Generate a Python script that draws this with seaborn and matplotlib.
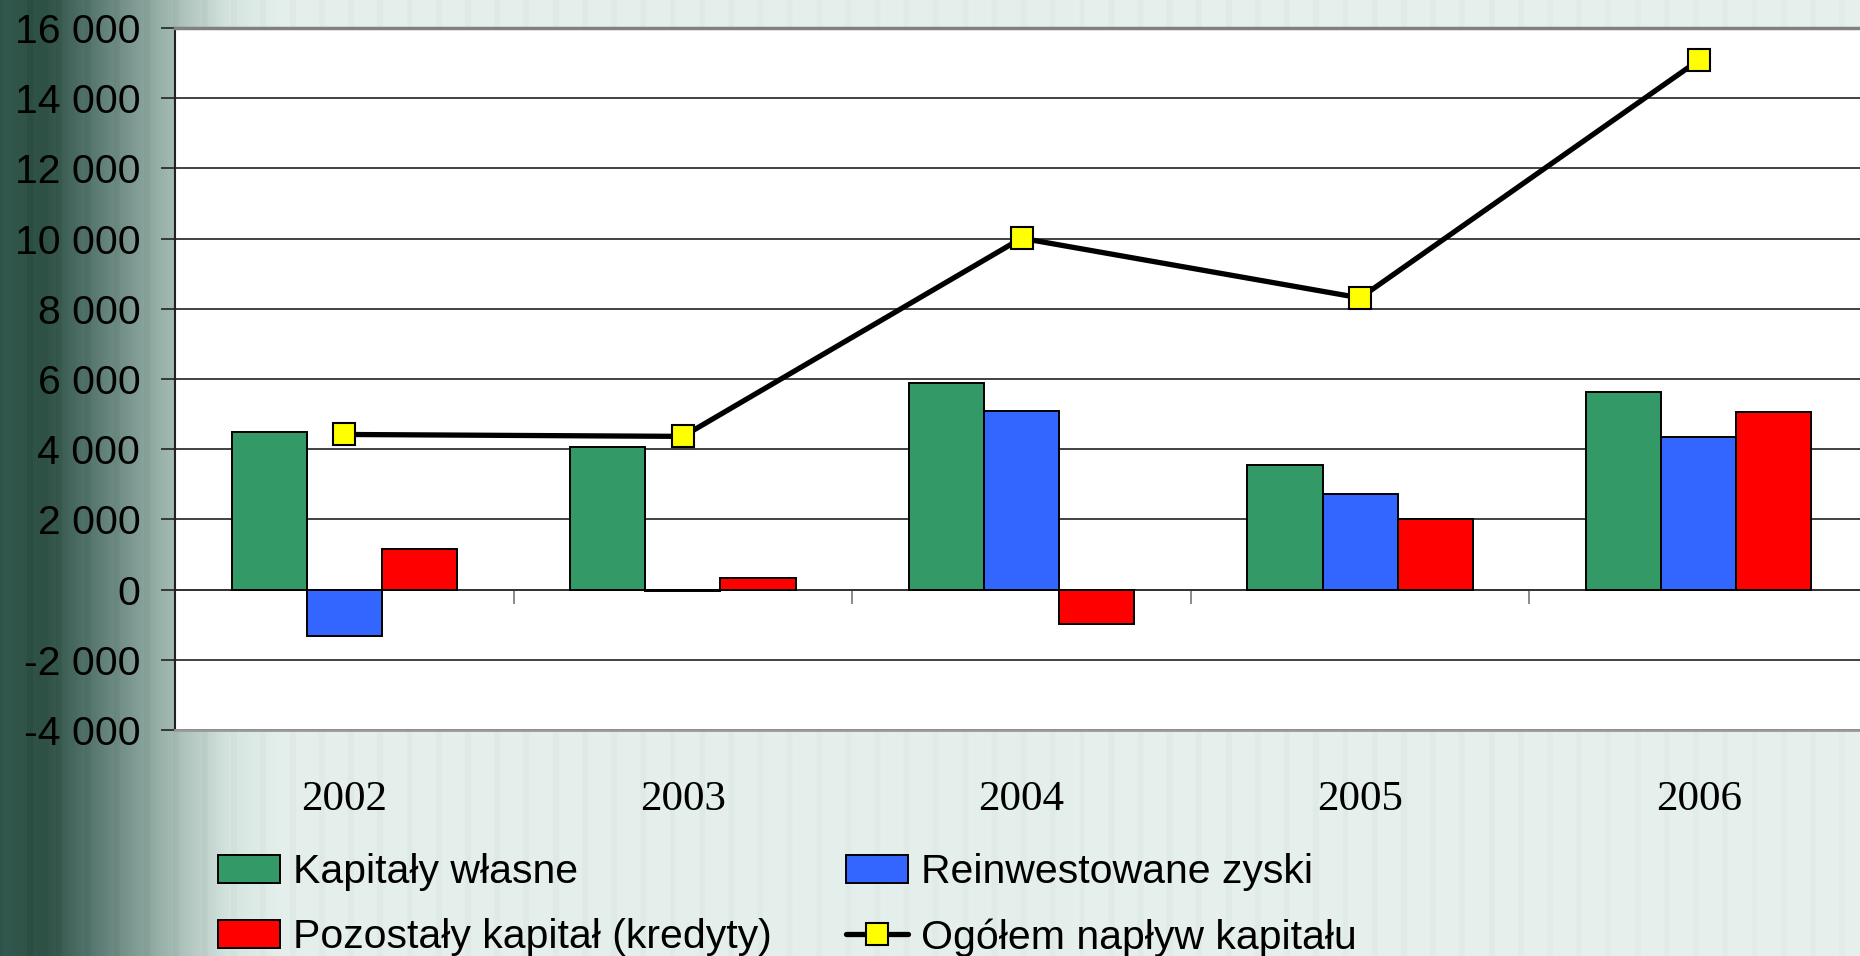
import numpy as np
import pandas as pd
import matplotlib
matplotlib.use("Agg")
import matplotlib.pyplot as plt
import seaborn as sns
from matplotlib.colors import to_rgb
from matplotlib.lines import Line2D
from matplotlib.patches import Patch
from matplotlib.ticker import FuncFormatter

# values
lata = ["2002", "2003", "2004", "2005", "2006"]
kapitaly_wlasne = [4500, 4060, 5890, 3545, 5635]
reinwestowane_zyski = [-1310, -40, 5080, 2710, 4335]
pozostaly_kapital = [1170, 340, -975, 2020, 5065]
ogolem_naplyw = [4420, 4365, 10010, 8310, 15080]

serie = ["Kapitały własne", "Reinwestowane zyski", "Pozostały kapitał (kredyty)"]
nazwa_linii = "Ogółem napływ kapitału"
kolory = ["#339966", "#3366FF", "#FF0000"]

df = pd.DataFrame({
    "rok": lata * 3,
    "seria": np.repeat(serie, len(lata)),
    "wartosc": kapitaly_wlasne + reinwestowane_zyski + pozostaly_kapital,
})

sns.set_style("white")
plt.rcParams["font.family"] = ["Liberation Sans", "DejaVu Sans"]
plt.rcParams["text.color"] = "black"
plt.rcParams["xtick.color"] = "black"
plt.rcParams["ytick.color"] = "black"

W, H = 1860, 956
fig = plt.figure(figsize=(W / 100, H / 100), dpi=100)

# background: dark green fade on the left, pale mint with faint streaks elsewhere
bg = fig.add_axes([0, 0, 1, 1], zorder=-10)
px = np.arange(W)
stops_x = [0, 45, 100, 150, 175, 200, 230, 280, W]
stops_c = np.array([to_rgb(c) for c in ["#33584d", "#2e5045", "#5f7f76", "#8ea8a0",
                                        "#a6bdb6", "#bdcfc9", "#d6e5e0", "#e4efeb", "#e6f1ed"]])
profile = np.stack([np.interp(px, stops_x, stops_c[:, i]) for i in range(3)], axis=1)
streaks = 0.018 * (np.cos(px / 9.3) * np.cos(px / 3.1) > 0.55)
profile = np.clip(profile - streaks[:, None], 0, 1)
bg.imshow(profile[None, :, :], aspect="auto", extent=[0, 1, 0, 1])
bg.set_axis_off()

# plot area (right edge runs just past the picture, as in the original)
ax = fig.add_axes([175 / W, 1 - 730 / H, 1693 / W, 702 / H])
ax.set_facecolor("white")

sns.barplot(data=df, x="rok", y="wartosc", hue="seria", palette=kolory, width=0.666,
            saturation=1, edgecolor="black", linewidth=1.4, legend=False, ax=ax, zorder=3)
sns.lineplot(x=np.arange(len(lata)), y=ogolem_naplyw, color="black", linewidth=3.8,
             marker="s", markersize=16, markerfacecolor="#FFFF00", markeredgecolor="black",
             markeredgewidth=1.5, ax=ax, zorder=5)

y0, y1 = -4000, 16000
ax.set_ylim(y0, y1)
ax.set_xlim(-0.5, len(lata) - 0.5)
ax.set_yticks(np.arange(y0, y1 + 1, 2000))
ax.yaxis.set_major_formatter(FuncFormatter(lambda v, p: f"{v:,.0f}".replace(",", " ")))
ax.yaxis.grid(True, color="#333333", linewidth=1.3)
ax.set_axisbelow(True)
ax.set_xlabel("")
ax.set_ylabel("")

ax.spines["right"].set_visible(False)
ax.spines["left"].set_color("#222222")
ax.spines["left"].set_linewidth(1.5)
ax.spines["top"].set_color("#808080")
ax.spines["top"].set_linewidth(2.5)
ax.spines["bottom"].set_color("#999999")
ax.spines["bottom"].set_linewidth(2)

ax.tick_params(axis="y", direction="out", length=10, width=1.2, color="#222222",
               labelsize=29.5, pad=15, left=True)
ax.tick_params(axis="x", length=0, labelsize=31, pad=36, labelfontfamily="Liberation Serif")

# category axis line at zero with tick marks between the years
zero_ax = ax.secondary_xaxis((0 - y0) / (y1 - y0))
zero_ax.set_xticks(np.arange(len(lata) + 1) - 0.5, labels=[])
zero_ax.tick_params(direction="out", length=10, width=1.2, color="#777777")
for s in ["top", "bottom"]:
    zero_ax.spines[s].set_color("#222222")
    zero_ax.spines[s].set_linewidth(1.2)

handles = [
    Patch(facecolor=kolory[0], edgecolor="black", linewidth=1.4),
    Patch(facecolor=kolory[2], edgecolor="black", linewidth=1.4),
    Patch(facecolor=kolory[1], edgecolor="black", linewidth=1.4),
    Line2D([], [], color="black", linewidth=3.8, marker="s", markersize=16,
           markerfacecolor="#FFFF00", markeredgecolor="black", markeredgewidth=1.5),
]
labels = [serie[0], serie[2], serie[1], nazwa_linii]
fig.legend(handles, labels, ncol=2, loc="upper left", bbox_to_anchor=(218 / W, 1 - 853 / H),
           frameon=False, fontsize=29.5, handlelength=1.52, handleheight=0.68,
           handletextpad=0.32, columnspacing=1.8, labelspacing=0.66,
           borderpad=0, borderaxespad=0)

fig.savefig("out.png", dpi=100)
